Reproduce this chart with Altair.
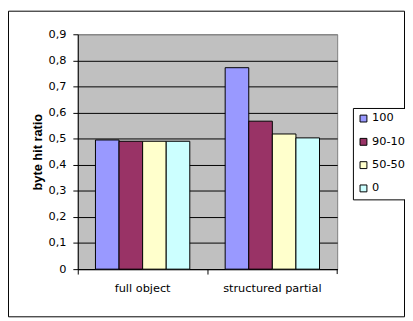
import altair as alt
import pandas as pd

categories = ["full object", "structured partial"]
series = ["100", "90-10", "50-50", "0"]
vals_100 = [0.495, 0.772]
vals_9010 = [0.490, 0.567]
vals_5050 = [0.490, 0.518]
vals_0 = [0.490, 0.503]
colors = ["#9999FF", "#993366", "#FFFFCC", "#CCFFFF"]
y_ticks = [0, 0.1, 0.2, 0.3, 0.4, 0.5, 0.6, 0.7, 0.8, 0.9]

rows = []
for s, vals in zip(series, [vals_100, vals_9010, vals_5050, vals_0]):
    for c, v in zip(categories, vals):
        rows.append({"category": c, "series": s, "value": v})
df = pd.DataFrame(rows)

W, H = 264, 239
LABEL_FONT = "DejaVu Sans"

bars = alt.Chart(df).mark_bar(stroke="black", strokeWidth=1).encode(
    x=alt.X(
        "category:N",
        sort=categories,
        scale=alt.Scale(paddingInner=0, paddingOuter=0),
        axis=alt.Axis(
            title=None,
            bandPosition=0,
            labelAngle=0,
            tickSize=5,
            labelPadding=9,
            domainColor="black",
            tickColor="black",
            labelFont=LABEL_FONT,
            labelFontSize=11.5,
            labelColor="black",
            grid=False,
        ),
    ),
    xOffset=alt.XOffset(
        "series:N", sort=series, scale=alt.Scale(paddingInner=0, paddingOuter=0.75)
    ),
    y=alt.Y(
        "value:Q",
        scale=alt.Scale(domain=[0, 0.9], nice=False, zero=True),
        axis=alt.Axis(
            title="byte hit ratio",
            values=y_ticks,
            labelExpr="datum.value == 0 ? '0' : replace(format(datum.value, '.1f'), '.', ',')",
            tickSize=5,
            labelPadding=7,
            domainColor="black",
            tickColor="black",
            grid=True,
            gridColor=alt.condition("datum.value >= 0.85", alt.value("#808080"), alt.value("black")),
            gridOpacity=1,
            gridWidth=1,
            labelFont=LABEL_FONT,
            labelFontSize=11.5,
            labelColor="black",
            titleFont="Liberation Sans",
            titleFontSize=13,
            titleFontWeight="bold",
            titleColor="black",
            titleAngle=270,
            titleX=-41,
            titleY=H / 2,
            titleAlign="center",
            titleBaseline="middle",
        ),
    ),
    color=alt.Color(
        "series:N",
        sort=series,
        scale=alt.Scale(domain=series, range=colors),
        legend=alt.Legend(
            title=None,
            orient="none",
            legendX=280,
            legendY=75,
            strokeColor="black",
            fillColor="white",
            padding=5,
            symbolType="square",
            symbolSize=49,
            symbolStrokeColor="black",
            symbolStrokeWidth=1,
            symbolOpacity=1,
            labelFont=LABEL_FONT,
            labelFontSize=11.5,
            labelFontWeight="normal",
            labelColor="black",
            labelOffset=3,
            rowPadding=10.7,
        ),
    ),
)

one = pd.DataFrame({"a": [0]})

end_tick = alt.Chart(one).mark_rule(color="black", strokeWidth=1).encode(
    x=alt.value(W), y=alt.value(H), y2=alt.value(H + 5)
)

border = alt.Chart(one).mark_rect(fill=None, fillOpacity=0, stroke="black", strokeWidth=1).encode(
    x=alt.value(-70.5), x2=alt.value(332.5), y=alt.value(-23.5), y2=alt.value(287.5)
)

chart = alt.layer(border, bars, end_tick).properties(
    width=W,
    height=H,
    padding={"left": 71, "top": 24, "right": 69, "bottom": 49},
    autosize=alt.AutoSizeParams(type="none"),
    background="white",
).configure_view(fill="#C0C0C0", stroke="#808080", strokeWidth=1)

chart.save("out.html", embed_options={"renderer": "svg", "actions": False})
